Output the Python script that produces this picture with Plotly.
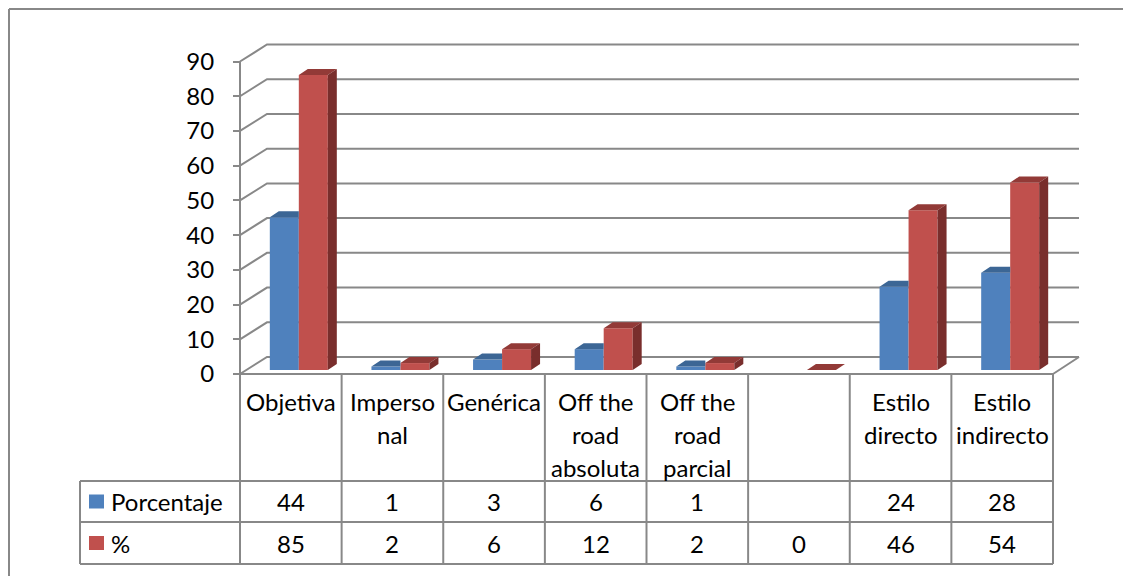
import plotly.graph_objects as go

# Data
categories = ["Objetiva", "Imperso<br>nal", "Genérica", "Off the<br>road<br>absoluta",
              "Off the<br>road<br>parcial", "", "Estilo<br>directo", "Estilo<br>indirecto"]
porcentaje = [44, 1, 3, 6, 1, None, 24, 28]
pct = [85, 2, 6, 12, 2, 0, 46, 54]
series_names = ["Porcentaje", "%"]
y_ticks = [0, 10, 20, 30, 40, 50, 60, 70, 80, 90]

# Colours
BLUE, BLUE_TOP = "#4F81BD", "#3C6695"
RED, RED_TOP, RED_SIDE = "#C0504D", "#923A37", "#792E2C"
GRID = "#888888"
FONT = "Lato"

# Geometry, in page pixels (the page body adds an 8px margin round the figure)
W, H = 1131, 576
PAGE_OFF = 8
COL_L, COL_W = 240, 101.625       # table / category columns
FRONT_Y0 = 374                    # value 0 on the front plane
PPU = 3.472                       # pixels per unit
BAR_DX, BAR_DY = 8, 4             # bar plane relative to front plane
WALL_DX, WALL_DY = 27, 17         # back wall relative to front plane
SIDE_DX, SIDE_DY = 9, 6           # bar depth
WALL_R = 1079
TABLE_L = 80
ROW_Y = [374, 481, 522, 564]
BAR_W_PX = 29


def xd(px):
    return (px - (COL_L + COL_W / 2 + BAR_DX)) / COL_W


def fx(px):
    return (px - PAGE_OFF) / W


def fy(py):
    return 1 - (py - PAGE_OFF) / H


n = len(categories)
bw = BAR_W_PX / COL_W
sdx, sdy = SIDE_DX / COL_W, SIDE_DY / PPU
front_off = -BAR_DY / PPU
back_off = (WALL_DY - BAR_DY) / PPU

fig = go.Figure()

# front faces
for vals, color, off in [(porcentaje, BLUE, -bw), (pct, RED, 0)]:
    fig.add_trace(go.Bar(x=list(range(n)), y=vals, width=bw, offset=off,
                         marker=dict(color=color, line=dict(width=0)), hoverinfo="skip"))


def faces(vals, off, clip):
    tx, ty, sx, sy = [], [], [], []
    for i, v in enumerate(vals):
        if v is None:
            continue
        x0 = i + off
        x1 = x0 + bw
        if clip:
            tx += [x0, x1, x1, x0 + sdx, x0, None]
            ty += [v, v, v + sdy, v + sdy, v, None]
        else:
            tx += [x0, x1, x1 + sdx, x0 + sdx, x0, None]
            ty += [v, v, v + sdy, v + sdy, v, None]
            sx += [x1, x1, x1 + sdx, x1 + sdx, x1, None]
            sy += [0, v, v + sdy, sdy, 0, None]
    return tx, ty, sx, sy


btx, bty, _, _ = faces(porcentaje, -bw, True)
rtx, rty, rsx, rsy = faces(pct, 0, False)
for xs, ys, c in [(btx, bty, BLUE_TOP), (rtx, rty, RED_TOP), (rsx, rsy, RED_SIDE)]:
    fig.add_trace(go.Scatter(x=xs, y=ys, mode="lines", fill="toself", fillcolor=c,
                             line=dict(width=0, color=c), hoverinfo="skip"))

shapes = []
# walls / gridlines (behind bars)
for t in y_ticks:
    path = (f"M {xd(COL_L)},{t + front_off} L {xd(COL_L + WALL_DX)},{t + back_off} "
            f"L {xd(WALL_R)},{t + back_off}")
    shapes.append(dict(type="path", path=path, xref="x", yref="y", layer="below",
                       line=dict(color=GRID, width=2)))
shapes.append(dict(type="line", xref="x", yref="y", layer="below",
                   x0=xd(COL_L), x1=xd(COL_L), y0=front_off, y1=y_ticks[-1] + front_off,
                   line=dict(color=GRID, width=2)))
table_r = COL_L + COL_W * n
shapes.append(dict(type="line", xref="x", yref="y", layer="below",
                   x0=xd(table_r), x1=xd(WALL_R), y0=front_off, y1=back_off,
                   line=dict(color=GRID, width=2)))

# data table
line = dict(color=GRID, width=2)
shapes.append(dict(type="line", xref="paper", yref="paper", x0=fx(COL_L), x1=fx(table_r),
                   y0=fy(ROW_Y[0]), y1=fy(ROW_Y[0]), line=line))
for ry in ROW_Y[1:]:
    shapes.append(dict(type="line", xref="paper", yref="paper", x0=fx(TABLE_L), x1=fx(table_r),
                       y0=fy(ry), y1=fy(ry), line=line))
for k in range(n + 1):
    cx = COL_L + COL_W * k
    shapes.append(dict(type="line", xref="paper", yref="paper", x0=fx(cx), x1=fx(cx),
                       y0=fy(ROW_Y[0]), y1=fy(ROW_Y[-1]), line=line))
shapes.append(dict(type="line", xref="paper", yref="paper", x0=fx(TABLE_L), x1=fx(TABLE_L),
                   y0=fy(ROW_Y[1]), y1=fy(ROW_Y[-1]), line=line))

# outer chart frame
shapes.append(dict(type="line", xref="paper", yref="paper", x0=fx(9), x1=1.02,
                   y0=fy(9), y1=fy(9), line=line))
shapes.append(dict(type="line", xref="paper", yref="paper", x0=fx(9), x1=fx(9),
                   y0=fy(9), y1=-0.02, line=line))

annotations = []
tfont = dict(family=FONT, size=24, color="#000000")
for i, cat in enumerate(categories):
    cx = COL_L + COL_W * (i + 0.5)
    for j, part in enumerate(cat.split("<br>")):
        if part:
            annotations.append(dict(x=fx(cx), y=fy(401 + 33 * j), xref="paper", yref="paper",
                                    text=part, showarrow=False, font=tfont,
                                    xanchor="center", yanchor="middle"))

for r, (name, vals, color) in enumerate([(series_names[0], porcentaje, BLUE),
                                          (series_names[1], pct, RED)]):
    cy = (ROW_Y[r + 1] + ROW_Y[r + 2]) / 2
    shapes.append(dict(type="rect", xref="paper", yref="paper", x0=fx(89), x1=fx(104),
                       y0=fy(cy - 7), y1=fy(cy + 7), fillcolor=color, line=dict(width=0)))
    annotations.append(dict(x=fx(109), y=fy(cy), xref="paper", yref="paper", text=name,
                            showarrow=False, font=tfont, xanchor="left", yanchor="middle"))
    for i, v in enumerate(vals):
        if v is None:
            continue
        cx = COL_L + COL_W * (i + 0.5)
        annotations.append(dict(x=fx(cx), y=fy(cy), xref="paper", yref="paper", text=str(v),
                                showarrow=False, font=tfont, xanchor="center", yanchor="middle"))

y0_val = FRONT_Y0 - BAR_DY
fig.update_layout(
    width=W, height=H,
    margin=dict(l=0, r=0, t=0, b=0),
    paper_bgcolor="white", plot_bgcolor="white",
    barmode="overlay",
    showlegend=False,
    shapes=shapes,
    annotations=annotations,
    xaxis=dict(range=[xd(PAGE_OFF), xd(PAGE_OFF + W)], domain=[0, 1], showgrid=False,
               zeroline=False, showticklabels=False, ticks="", showline=False, fixedrange=True),
    yaxis=dict(range=[(y0_val - PAGE_OFF - H) / PPU, (y0_val - PAGE_OFF) / PPU], domain=[0, 1],
               anchor="free", position=fx(COL_L),
               tickvals=[t + front_off for t in y_ticks], ticktext=[str(t) for t in y_ticks],
               ticks="outside", ticklen=7, tickwidth=2, tickcolor=GRID,
               ticklabelstandoff=14, tickfont=tfont,
               showgrid=False, zeroline=False, showline=False, fixedrange=True),
)

fig.write_html("out.html")
